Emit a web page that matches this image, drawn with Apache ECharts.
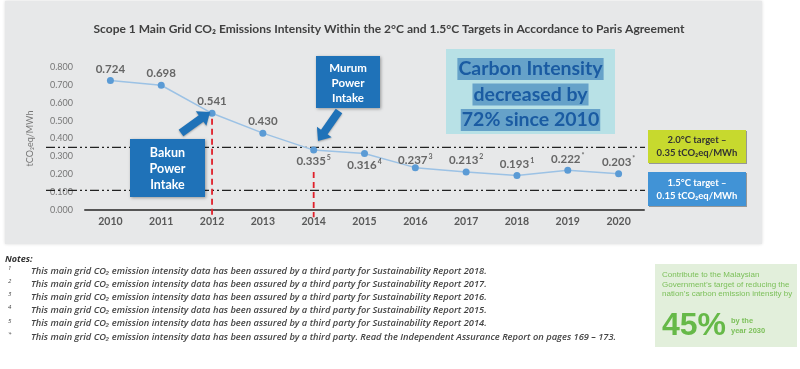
<!DOCTYPE html>
<html><head><meta charset="utf-8">
<script src="https://cdn.jsdelivr.net/npm/echarts@6/dist/echarts.min.js"></script>
<style>html,body{margin:0;padding:0;background:#fff}#c{width:800px;height:369px}</style>
</head><body><div id="c"></div>
<script>
// ---- data ----
const years = ['2010','2011','2012','2013','2014','2015','2016','2017','2018','2019','2020'];
const intensity = [0.724,0.698,0.541,0.430,0.335,0.316,0.237,0.213,0.193,0.222,0.203];
const noteMarks = ['','','','','5','4','3','2','1','*','*'];
const labelBelow = [false,false,false,false,true,true,false,false,false,false,false];
const yMin = 0, yMax = 0.8, yStep = 0.1;
const targetLines = [0.35, 0.11];          // drawn positions of 2.0°C / 1.5°C lines
const intakeYears = ['2012','2014'];
const intakeTop = [0.51, 0.213];
const intakeBottom = -0.04;
const noteLines = [
  ['1','This main grid CO₂ emission intensity data has been assured by a third party for Sustainability Report 2018.'],
  ['2','This main grid CO₂ emission intensity data has been assured by a third party for Sustainability Report 2017.'],
  ['3','This main grid CO₂ emission intensity data has been assured by a third party for Sustainability Report 2016.'],
  ['4','This main grid CO₂ emission intensity data has been assured by a third party for Sustainability Report 2015.'],
  ['5','This main grid CO₂ emission intensity data has been assured by a third party for Sustainability Report 2014.'],
  ['*','This main grid CO₂ emission intensity data has been assured by a third party. Read the Independent Assurance Report on pages 169 – 173.']
];

const chart = echarts.init(document.getElementById('c'), null, {renderer:'canvas'});
const FONT = 'Lato, "Open Sans", sans-serif';

const seriesData = intensity.map((v,i)=>({
  value: v,
  label: {
    position: labelBelow[i] ? 'bottom' : 'top',
    distance: labelBelow[i] ? 1 : (i === 6 ? -3 : 1),
    formatter: noteMarks[i] ? '{v|' + v.toFixed(3) + '}{s|' + noteMarks[i] + '}' : '{v|' + v.toFixed(3) + '}'
  }
}));

const option = {
  backgroundColor: '#ffffff',
  animation: false,
  title: {
    text: 'Scope 1 Main Grid CO₂ Emissions Intensity Within the 2°C and 1.5°C Targets in Accordance to Paris Agreement',
    left: 384, top: 18, textAlign: 'center',
    textStyle: {fontFamily: FONT, fontWeight: 'bold', fontSize: 12, color: '#404040'}
  },
  grid: {left: 85, right: 156, top: 67, bottom: 159},
  xAxis: {
    type: 'category', data: years, boundaryGap: true,
    axisLine: {lineStyle: {color: '#555', width: 2}},
    axisTick: {show: false},
    axisLabel: {fontFamily: FONT, fontWeight: 'bold', fontSize: 10.5, color: '#595959', margin: 6}
  },
  yAxis: {
    type: 'value', min: yMin, max: yMax, interval: yStep,
    name: 'tCO₂eq/MWh', nameLocation: 'middle', nameRotate: 90, nameGap: 50,
    nameTextStyle: {fontFamily: FONT, fontSize: 9, color: '#777'},
    axisLine: {show: false}, axisTick: {show: false}, splitLine: {show: false},
    axisLabel: {fontFamily: FONT, fontSize: 9, color: '#777', margin: 12, formatter: v => v.toFixed(3)}
  },
  series: [{
    type: 'line', data: seriesData, z: 5,
    symbol: 'circle', symbolSize: 7,
    lineStyle: {color: '#9cc2e5', width: 1.5},
    itemStyle: {color: '#5b9bd5'},
    label: {show: true, rich: {
      v: {fontFamily: FONT, fontSize: 11.5, fontWeight: 'bold', color: '#666', lineHeight: 14},
      s: {fontFamily: FONT, fontSize: 7, fontWeight: 'bold', color: '#666', verticalAlign: 'top', lineHeight: 14, padding: [0,0,4,1]}
    }}
  }]
};
chart.setOption(option);

function arrow(x1,y1,x2,y2,shaft,head,headLen,color){
  const dx=x2-x1, dy=y2-y1, L=Math.hypot(dx,dy), ux=dx/L, uy=dy/L, nx=-uy, ny=ux;
  const bx=x2-ux*headLen, by=y2-uy*headLen;
  const pts=[
    [x1+nx*shaft/2, y1+ny*shaft/2],[bx+nx*shaft/2, by+ny*shaft/2],[bx+nx*head/2, by+ny*head/2],
    [x2,y2],[bx-nx*head/2, by-ny*head/2],[bx-nx*shaft/2, by-ny*shaft/2],[x1-nx*shaft/2, y1-ny*shaft/2]];
  return {type:'polygon', shape:{points:pts}, style:{fill:color, shadowBlur:2, shadowColor:'rgba(0,0,0,0.3)', shadowOffsetY:1}, z:20};
}
function box(x,y,w,h,fill,lines,opts){
  const els=[{type:'rect', shape:{x,y,width:w,height:h}, style:{fill, shadowBlur: opts.shadow?3:0, shadowColor:'rgba(0,0,0,0.35)', shadowOffsetX:1, shadowOffsetY:1}, z:20}];
  lines.forEach((t,i)=>{
    els.push({type:'text', z:21, style:{text:t, x:x+w/2, y:y+opts.first+i*opts.lh, textAlign:'center', textVerticalAlign:'middle',
      font: opts.font, fill: opts.color}});
  });
  return els;
}

const g = [];
g.push({type:'rect', shape:{x:5,y:1,width:757,height:243}, style:{fill:'#e7e8e9', shadowBlur:3, shadowColor:'rgba(0,0,0,0.15)'}, z:-10});
// target lines
targetLines.forEach(v=>{
  const y = chart.convertToPixel({yAxisIndex:0}, v);
  g.push({type:'line', shape:{x1:46,y1:y,x2:645,y2:y}, style:{stroke:'#222', lineWidth:1.2, lineDash:[9,3,2,3,2,3]}, z:3});
});
// intake red lines
intakeYears.forEach((yr,i)=>{
  const p1 = chart.convertToPixel({xAxisIndex:0,yAxisIndex:0}, [yr, intakeTop[i]]);
  const p2 = chart.convertToPixel({xAxisIndex:0,yAxisIndex:0}, [yr, intakeBottom]);
  g.push({type:'line', shape:{x1:p1[0],y1:p1[1],x2:p2[0],y2:p2[1]}, style:{stroke:'#e0202a', lineWidth:1.8, lineDash:[6,4]}, z:4});
});
// callout boxes
box(130,139,75,58,'#1f72b8',['Bakun','Power','Intake'],{first:14,lh:16,font:'bold 12.5px '+FONT,color:'#fff',shadow:true}).forEach(e=>g.push(e));
box(316,56,64,52,'#1f72b8',['Murum','Power','Intake'],{first:12,lh:15,font:'bold 11.5px '+FONT,color:'#fff',shadow:true}).forEach(e=>g.push(e));
g.push(arrow(181,133,210,112,8,18,11,'#1f72b8'));
g.push(arrow(339,111,318,141,8,18,11,'#1f72b8'));
// carbon intensity box
g.push({type:'rect', shape:{x:446,y:49,width:169,height:85}, style:{fill:'#b8e1e6'}, z:20});
['Carbon Intensity','decreased by','72% since 2010'].forEach((t,i)=>{
  g.push({type:'text', z:21, style:{text:t, x:530.5, y:69+i*25.5, textAlign:'center', textVerticalAlign:'middle',
    font:'bold 19.5px '+FONT, fill:'#1a5ba2', backgroundColor:'#66a2c9', padding:[1,1,1,1]}});
});
// target legend boxes
box(648,130,98,33,'#c7d92e',['2.0°C target –','0.35 tCO₂eq/MWh'],{first:10,lh:12.5,font:'bold 9.5px '+FONT,color:'#333',shadow:false}).forEach(e=>g.push(e));
box(648,172,98,34,'#4193d6',['1.5°C target –','0.15 tCO₂eq/MWh'],{first:11,lh:12.5,font:'bold 9.5px '+FONT,color:'#fff',shadow:false}).forEach(e=>g.push(e));
// notes
g.push({type:'text', z:21, style:{text:'Notes:', x:5, y:259, textVerticalAlign:'middle', font:'italic bold 9px "Open Sans", sans-serif', fill:'#333'}});
noteLines.forEach((n,i)=>{
  const y = 271 + i*13.2;
  g.push({type:'text', z:21, style:{text:n[0], x:8, y:y-3, textVerticalAlign:'middle', font:'italic 6px "Open Sans", sans-serif', fill:'#444'}});
  g.push({type:'text', z:21, style:{text:n[1], x:31, y:y, textVerticalAlign:'middle', font:'italic 600 9.3px "Open Sans", sans-serif', fill:'#444'}});
});
// green box
g.push({type:'rect', shape:{x:655,y:264,width:142,height:83}, style:{fill:'#e2efdb'}, z:20});
['Contribute to the Malaysian','Government’s target of reducing the','nation’s carbon emission intensity by'].forEach((t,i)=>{
  g.push({type:'text', z:21, style:{text:t, x:662, y:275+i*9.5, textVerticalAlign:'middle', font:'8px "Liberation Sans", Arial, sans-serif', fill:'#7cc05a'}});
});
g.push({type:'text', z:21, style:{text:'45%', x:662, y:326, textVerticalAlign:'middle', font:'bold 32px "Liberation Sans", Arial, sans-serif', fill:'#66b948'}});
g.push({type:'text', z:21, style:{text:'by the', x:731, y:321, textVerticalAlign:'middle', font:'bold 7.5px "Liberation Sans", Arial, sans-serif', fill:'#7cc05a'}});
g.push({type:'text', z:21, style:{text:'year 2030', x:731, y:331, textVerticalAlign:'middle', font:'bold 7.5px "Liberation Sans", Arial, sans-serif', fill:'#7cc05a'}});

chart.setOption({graphic: g});
</script></body></html>
